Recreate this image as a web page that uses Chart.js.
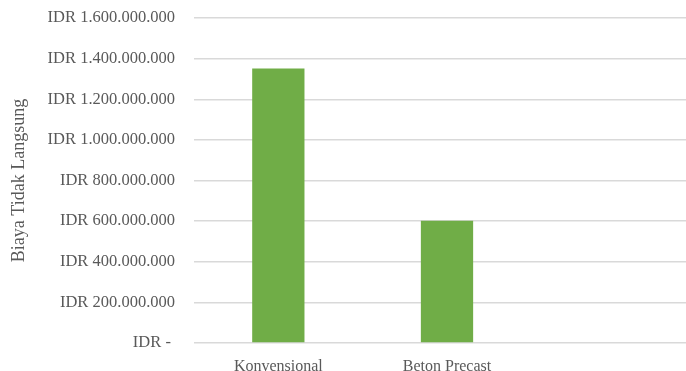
<!DOCTYPE html>
<html>
<head>
<meta charset="utf-8">
<script src="https://cdn.jsdelivr.net/npm/chart.js@4"></script>
<style>
  html, body { margin: 0; padding: 0; background: #fff; overflow: hidden; }
  #wrap { width: 700px; height: 371px; }
</style>
</head>
<body>
<div id="wrap"><canvas id="costChart" width="700" height="371"></canvas></div>
<script>
// categories (third one is empty in the original sheet)
var categories = ['Konvensional', 'Beton Precast', ''];
var biayaTidakLangsung = [1352000000, 602000000, null];
var yTickLabels = ['IDR - ', 'IDR 200.000.000', 'IDR 400.000.000', 'IDR 600.000.000',
    'IDR 800.000.000', 'IDR 1.000.000.000', 'IDR 1.200.000.000', 'IDR 1.400.000.000', 'IDR 1.600.000.000'];

var ctx = document.getElementById('costChart').getContext('2d');
var serif = '"Liberation Serif", "Times New Roman", serif';

var costChart = new Chart(ctx, {
    type: 'bar',
    data: {
        labels: categories,
        datasets: [{
            label: 'Biaya Tidak Langsung',
            data: biayaTidakLangsung,
            backgroundColor: '#70ad47',
            borderWidth: 0,
            barPercentage: 0.31,
            categoryPercentage: 1
        }]
    },
    options: {
        responsive: false,
        animation: false,
        layout: { padding: { top: 18, left: 8, right: 0, bottom: 0 } },
        plugins: {
            legend: { display: false },
            tooltip: { enabled: false }
        },
        scales: {
            x: {
                grid: { display: false },
                border: { display: false },
                ticks: {
                    color: '#595959',
                    font: { family: serif, size: 16 },
                    padding: 6
                },
                afterFit: function (scale) { scale.height = 28; }
            },
            y: {
                min: 0,
                max: 1600000000,
                grid: { color: '#d9d9d9', lineWidth: 1.5, drawTicks: false },
                border: { display: false },
                ticks: {
                    stepSize: 200000000,
                    color: '#595959',
                    font: { family: serif, size: 16.5 },
                    padding: 19,
                    callback: function (value, index) { return yTickLabels[index]; }
                },
                title: {
                    display: true,
                    text: 'Biaya Tidak Langsung',
                    color: '#595959',
                    font: { family: serif, size: 18 },
                    padding: 0
                },
                afterFit: function (scale) {
                    scale.width = 186;
                    // tick padding would otherwise push the plot top down
                    scale.paddingTop = 0;
                    scale.paddingBottom = 0;
                }
            }
        }
    }
});
</script>
</body>
</html>
